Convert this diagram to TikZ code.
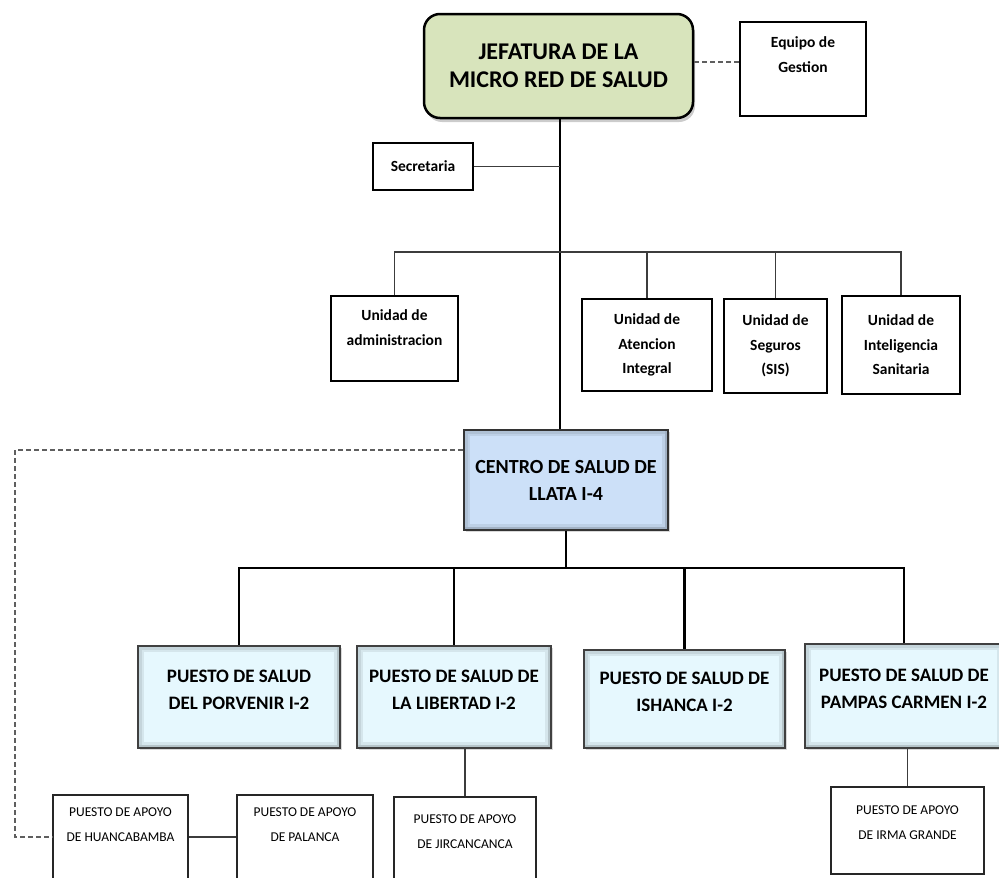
\documentclass[tikz,border=0pt]{standalone}
\usepackage{fontspec}
\setmainfont{Carlito}
\usetikzlibrary{positioning,shadows}
\definecolor{jefegreen}{RGB}{216,228,188}
\definecolor{centroblue}{RGB}{204,224,248}
\definecolor{puestocyan}{RGB}{230,248,254}
\definecolor{lineagray}{RGB}{60,60,60}
\definecolor{dashgray}{RGB}{95,95,95}
\tikzset{
  jefebox/.style={draw=black, line width=2.5pt, rounded corners=16pt, fill=jefegreen,
    drop shadow={opacity=0.4,shadow xshift=2pt,shadow yshift=-4pt},
    minimum width=269pt, minimum height=104pt, align=flush center,
    font=\bfseries\fontsize{24}{28}\selectfont},
  unitbox/.style={draw=black, line width=1.4pt, fill=white, align=flush center, inner sep=0pt,
    font=\bfseries\fontsize{15.5}{24.5}\selectfont},
  bevel/.style={path picture={
      \draw[black, opacity=0.07, line width=12pt] (path picture bounding box.south west) rectangle (path picture bounding box.north east);
      \draw[black, opacity=0.07, line width=7pt] (path picture bounding box.south west) rectangle (path picture bounding box.north east);
      \draw[black, opacity=0.08, line width=6pt] (path picture bounding box.south west) -- (path picture bounding box.south east) -- (path picture bounding box.north east);}},
  centrobox/.style={draw=black!80, line width=2.2pt, fill=centroblue, bevel,
    drop shadow={opacity=0.3,shadow xshift=1.5pt,shadow yshift=-2pt},
    align=flush center, font=\bfseries\fontsize{20}{27}\selectfont},
  puestobox/.style={draw=black!75, line width=2.2pt, fill=puestocyan, bevel, align=flush center,
    inner xsep=2pt, text width=188pt, text depth=41pt,
    drop shadow={opacity=0.3,shadow xshift=1.5pt,shadow yshift=-2pt},
    font=\bfseries\fontsize{19}{27}\selectfont},
  apoyobox/.style={draw=black!85, line width=1.4pt, fill=white, align=flush center, inner sep=0pt,
    font=\fontsize{13.5}{25}\selectfont},
  boxsize/.style 2 args={minimum width=#1pt, minimum height=#2pt},
  mainline/.style={draw=black, line width=2.4pt},
  subline/.style={draw=lineagray, line width=1.3pt},
  dashline/.style={draw=dashgray, line width=1.3pt, dash pattern=on 5pt off 3pt}
}
\begin{document}
\begin{tikzpicture}[x=1pt,y=-1pt]
  \useasboundingbox (0,0) rectangle (999,878);
  \clip (0,0) rectangle (999,878);
  % jefatura
  \node[jefebox] (jefe) at (558.5,66) {JEFATURA DE LA\\MICRO RED DE SALUD};
  \node[unitbox, boxsize={126}{94}, text width=120pt, text depth=53.6pt] (equipo) at (803,69) {Equipo de\\Gestion};
  \node[unitbox, boxsize={100}{47}] (secre) at (423,166.5) {Secretaria};
  % unidades
  \node[unitbox, boxsize={127}{85}, text width=120pt, text depth=46.6pt] (admin) at (394.5,338.5) {Unidad de\\administracion};
  \node[unitbox, boxsize={130}{92}] (atencion) at (647,345) {Unidad de\\Atencion\\Integral};
  \node[unitbox, boxsize={103}{94}] (seguros) at (775.5,346) {Unidad de\\Seguros\\(SIS)};
  \node[unitbox, boxsize={118}{98}] (intel) at (901,345) {Unidad de\\Inteligencia\\Sanitaria};
  % centro de salud
  \node[centrobox, boxsize={204}{100}] (centro) at (566,480) {CENTRO DE SALUD DE\\LLATA I-4};
  % puestos de salud
  \node[puestobox, boxsize={202}{102}] (porvenir) at (239,697) {PUESTO DE SALUD\\DEL PORVENIR I-2};
  \node[puestobox, boxsize={194}{102}] (libertad) at (454,697) {PUESTO DE SALUD DE\\LA LIBERTAD I-2};
  \node[puestobox, boxsize={201}{98}] (ishanca) at (684.5,699) {PUESTO DE SALUD DE\\ISHANCA I-2};
  \node[puestobox, boxsize={198}{104}] (pampas) at (904,696) {PUESTO DE SALUD DE\\PAMPAS CARMEN I-2};
  % puestos de apoyo
  \node[apoyobox, boxsize={135}{100}, text width=130pt, text depth=65.9pt] (huanca) at (120.5,845) {PUESTO DE APOYO\\DE HUANCABAMBA};
  \node[apoyobox, boxsize={136}{100}, text width=130pt, text depth=65.9pt] (palanca) at (305,845) {PUESTO DE APOYO\\DE PALANCA};
  \node[apoyobox, boxsize={142}{100}, text width=136pt, text depth=55.9pt] (jirc) at (465,847) {PUESTO DE APOYO\\DE JIRCANCANCA};
  \node[apoyobox, boxsize={153}{87}, text width=146pt, text depth=40.9pt] (irma) at (907.5,830.5) {PUESTO DE APOYO\\DE IRMA GRANDE};
  % conectores
  \coordinate (ubar) at (0,252);
  \coordinate (pbar) at (0,568);
  \coordinate (apoyoy) at (0,837);
  \coordinate (dashtop) at (15,450);
  \coordinate (jefeout) at ([xshift=1.5pt]jefe.south);
  \draw[dashline] ([yshift=4pt]jefe.east) -- ([yshift=4pt]jefe.east -| equipo.west);
  \draw[mainline] (jefeout) -- (jefeout |- centro.north);
  \draw[subline] (secre.east) -- (secre.east -| jefeout);
  \draw[subline] (admin.north) -- (admin.north |- ubar) -- (intel.north |- ubar) -- (intel.north);
  \draw[subline] (atencion.north) -- (atencion.north |- ubar);
  \draw[subline] (seguros.north) -- (seguros.north |- ubar);
  \draw[mainline] (centro.south) -- (centro.south |- pbar);
  \draw[mainline] (porvenir.north) -- (porvenir.north |- pbar) -- (pampas.north |- pbar) -- (pampas.north);
  \draw[mainline] (libertad.north) -- (libertad.north |- pbar);
  \draw[mainline] (ishanca.north) -- (ishanca.north |- pbar);
  \draw[subline] (jirc.north) -- (jirc.north |- libertad.south);
  \draw[subline] (irma.north) -- (irma.north |- pampas.south);
  \draw[subline] (huanca.east |- apoyoy) -- (palanca.west |- apoyoy);
  \draw[dashline] (dashtop -| centro.west) -- (dashtop) |- (huanca.west |- apoyoy);
\end{tikzpicture}
\end{document}
